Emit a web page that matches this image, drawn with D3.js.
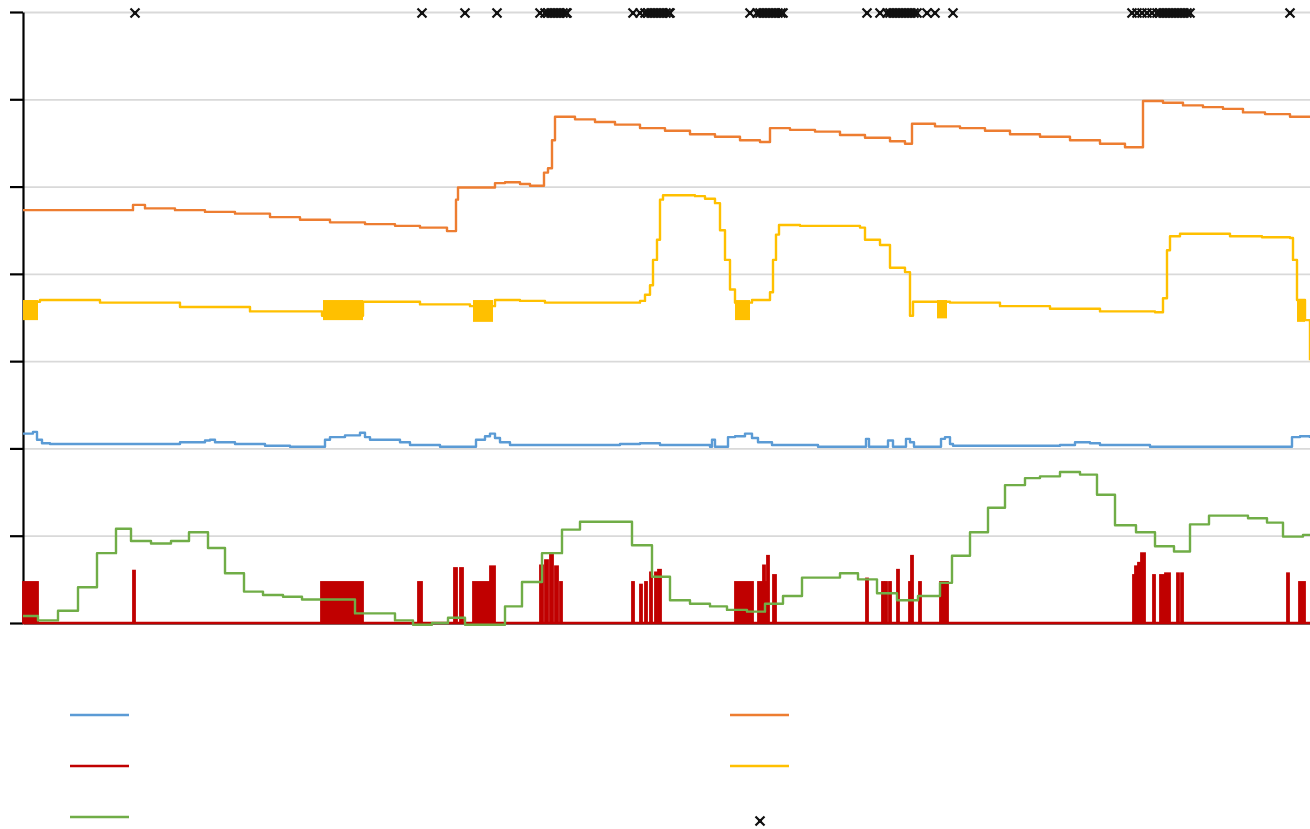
<!DOCTYPE html>
<html>
<head>
<meta charset="utf-8">
<script src="https://cdn.jsdelivr.net/npm/d3@7"></script>
<style>
  html, body { margin: 0; padding: 0; background: #fff; }
  svg { display: block; }
</style>
</head>
<body>
<script>
// x = minute index, y = series value (gridlines every 1 unit, 0..7)
const X_DOMAIN = [0, 1287];
const Y_TICKS = [0, 1, 2, 3, 4, 5, 6, 7];

const orangeSeries = [
  [0, 4.73], [110, 4.79], [122, 4.75], [152, 4.73], [182, 4.71], [212, 4.69],
  [247, 4.65], [277, 4.62], [307, 4.59], [342, 4.57], [372, 4.55], [397, 4.53],
  [424, 4.49], [433, 4.85], [435, 4.99], [472, 5.04], [482, 5.05], [497, 5.03],
  [507, 5.01], [521, 5.16], [525, 5.21], [529, 5.53], [532, 5.80], [552, 5.77],
  [572, 5.74], [592, 5.71], [617, 5.67], [642, 5.64], [667, 5.60], [692, 5.57],
  [717, 5.53], [737, 5.51], [747, 5.67], [767, 5.65], [792, 5.63], [817, 5.59],
  [842, 5.56], [867, 5.52], [882, 5.49], [889, 5.72], [912, 5.69], [937, 5.67],
  [962, 5.64], [987, 5.60], [1017, 5.57], [1047, 5.53], [1077, 5.49], [1102, 5.45],
  [1120, 5.98], [1140, 5.96], [1160, 5.93], [1180, 5.91], [1200, 5.89], [1220, 5.85],
  [1242, 5.83], [1267, 5.80], [1287, 5.79],
];

const yellowSeries = [
  [0, 3.68], [17, 3.70], [77, 3.67], [157, 3.62], [227, 3.57], [299, 3.52],
  [340, 3.68], [397, 3.65], [447, 3.63], [472, 3.70], [497, 3.69], [522, 3.67],
  [617, 3.69], [622, 3.76], [627, 3.87], [630, 4.16], [634, 4.39], [637, 4.85],
  [640, 4.90], [672, 4.89], [682, 4.86], [692, 4.81], [697, 4.50], [702, 4.16],
  [707, 3.82], [712, 3.67], [729, 3.70], [747, 3.79], [750, 4.16], [753, 4.45],
  [756, 4.56], [777, 4.55], [837, 4.53], [842, 4.39], [857, 4.33], [867, 4.07],
  [882, 4.02], [887, 3.52], [890, 3.68], [927, 3.67], [977, 3.63], [1027, 3.60],
  [1077, 3.57], [1132, 3.56], [1140, 3.72], [1144, 4.27], [1147, 4.43], [1157, 4.46],
  [1207, 4.43], [1239, 4.42], [1267, 4.41], [1270, 4.16], [1274, 3.70], [1282, 3.47],
  [1287, 3.01],
];

// dense jitter bursts of the yellow series: [from, to, high, low]
const yellowBursts = [
  [0, 15, 3.70, 3.47], [300, 340, 3.70, 3.47], [450, 470, 3.70, 3.45],
  [712, 727, 3.70, 3.47], [914, 924, 3.70, 3.49], [1274, 1282, 3.70, 3.45],
];

const blueSeries = [
  [0, 2.17], [10, 2.19], [14, 2.10], [19, 2.06], [27, 2.05], [157, 2.07],
  [182, 2.09], [187, 2.10], [192, 2.07], [212, 2.05], [242, 2.03], [267, 2.02],
  [302, 2.10], [307, 2.13], [322, 2.15], [337, 2.18], [342, 2.13], [347, 2.10],
  [377, 2.07], [387, 2.04], [417, 2.02], [453, 2.10], [462, 2.14], [467, 2.17],
  [472, 2.12], [477, 2.07], [487, 2.04], [597, 2.05], [617, 2.06], [637, 2.04],
  [687, 2.02], [689, 2.10], [692, 2.02], [705, 2.13], [712, 2.14], [722, 2.17],
  [729, 2.12], [735, 2.07], [749, 2.04], [795, 2.02], [843, 2.11], [846, 2.02],
  [865, 2.09], [870, 2.02], [883, 2.11], [887, 2.07], [891, 2.02], [918, 2.11],
  [922, 2.13], [927, 2.05], [930, 2.03], [1037, 2.04], [1052, 2.07], [1067, 2.06],
  [1077, 2.04], [1127, 2.02], [1269, 2.13], [1277, 2.14], [1287, 2.12],
];

const greenSeries = [
  [0, 0.08], [15, 0.03], [35, 0.14], [55, 0.41], [74, 0.80], [93, 1.08],
  [108, 0.94], [128, 0.91], [148, 0.94], [166, 1.04], [185, 0.86], [202, 0.57],
  [221, 0.36], [240, 0.32], [260, 0.30], [279, 0.27], [332, 0.11], [372, 0.03],
  [390, -0.02], [409, 0.00], [425, 0.06], [442, -0.02], [482, 0.19], [499, 0.47],
  [519, 0.80], [539, 1.07], [557, 1.16], [609, 0.89], [629, 0.53], [647, 0.26],
  [667, 0.22], [687, 0.19], [704, 0.15], [724, 0.13], [742, 0.22], [760, 0.31],
  [779, 0.52], [817, 0.57], [835, 0.50], [854, 0.34], [874, 0.26], [895, 0.31],
  [917, 0.46], [929, 0.77], [947, 1.04], [965, 1.32], [982, 1.58], [1002, 1.66],
  [1017, 1.68], [1037, 1.73], [1057, 1.70], [1074, 1.47], [1092, 1.12], [1113, 1.04],
  [1132, 0.88], [1151, 0.82], [1167, 1.13], [1186, 1.23], [1225, 1.20], [1244, 1.15],
  [1260, 0.99], [1280, 1.01], [1287, 1.01],
];

// red pulses off the zero line: [from, to, height]
const redPulses = [
  [0, 15, 0.47], [110, 112, 0.60], [298, 340, 0.47], [395, 399, 0.47],
  [431, 434, 0.63], [437, 440, 0.63], [450, 467, 0.47], [467, 472, 0.65],
  [517, 520, 0.66], [522, 525, 0.72], [527, 530, 0.78], [532, 535, 0.65],
  [537, 539, 0.47], [609, 611, 0.47], [617, 619, 0.44], [622, 624, 0.47],
  [627, 629, 0.58], [632, 634, 0.58], [635, 638, 0.61], [712, 730, 0.47],
  [735, 745, 0.47], [740, 742, 0.66], [744, 746, 0.77], [750, 753, 0.55],
  [843, 845, 0.51], [859, 861, 0.47], [862, 864, 0.47], [866, 868, 0.47],
  [874, 876, 0.61], [886, 888, 0.47], [888, 890, 0.77], [896, 898, 0.47],
  [917, 925, 0.47], [1110, 1112, 0.55], [1112, 1115, 0.65], [1115, 1118, 0.69],
  [1118, 1122, 0.80], [1130, 1132, 0.55], [1137, 1142, 0.55], [1142, 1147, 0.57],
  [1154, 1156, 0.57], [1158, 1160, 0.57], [1264, 1266, 0.57], [1276, 1282, 0.47],
];
const redBase = [[0, 0], [1287, 0]];

// event markers along the top line
const MARKER_VALUE = 7;
const markerTimes = [
  112, 399, 442, 474,
  517, 522, 525, 528, 531, 534, 537, 540, 543, 544,
  610, 617, 622, 625, 628, 631, 634, 637, 640, 643, 646, 647,
  727, 734, 737, 740, 743, 746, 749, 752, 755, 758, 760,
  844, 857, 864, 867, 870, 873, 876, 879, 882, 885, 888, 891, 894, 904, 912, 930,
  1109, 1114, 1119, 1124, 1129, 1134, 1137, 1140, 1143, 1146, 1149, 1152, 1155,
  1158, 1161, 1164, 1167,
  1267,
];

const COLORS = {
  blue: "#5b9bd5",
  orange: "#ed7d31",
  yellow: "#ffc000",
  green: "#70ad47",
  red: "#c00000",
  grid: "#d9d9d9",
  axis: "#000000",
};

const WIDTH = 1310;
const HEIGHT = 829;
const margin = { top: 12, right: 0, bottom: 206, left: 23 };
const LINE_W = 2.4;

const x = d3.scaleLinear().domain(X_DOMAIN).range([margin.left, WIDTH - margin.right]);
const y = d3.scaleLinear().domain([0, 7]).range([HEIGHT - margin.bottom, margin.top]);

const svg = d3.select("body").append("svg")
  .attr("width", WIDTH)
  .attr("height", HEIGHT);

// Gridlines
svg.append("g")
  .attr("transform", `translate(${margin.left},0)`)
  .call(d3.axisLeft(y).tickValues(Y_TICKS).tickSize(-(WIDTH - margin.left - margin.right)).tickFormat(""))
  .call((g) => g.select(".domain").remove())
  .call((g) => g.selectAll("line").attr("stroke", COLORS.grid).attr("stroke-width", 1.8));

// Y axis
svg.append("g")
  .attr("transform", `translate(${margin.left},0)`)
  .call(d3.axisLeft(y).tickValues(Y_TICKS).tickSize(13).tickSizeOuter(0).tickFormat(""))
  .call((g) => g.selectAll("path,line").attr("stroke", COLORS.axis).attr("stroke-width", 2.2));

// X axis
svg.append("g")
  .attr("transform", `translate(0,${y(0)})`)
  .call(d3.axisBottom(x).tickValues([]).tickSizeOuter(0))
  .call((g) => g.selectAll("path").attr("stroke", COLORS.axis).attr("stroke-width", 2.2));

const stepLine = d3.line()
  .x((d) => x(d[0]))
  .y((d) => y(d[1]))
  .curve(d3.curveStepAfter);

function drawLine(data, color) {
  svg.append("path")
    .datum(data)
    .attr("fill", "none")
    .attr("stroke", color)
    .attr("stroke-width", LINE_W)
    .attr("stroke-linejoin", "round")
    .attr("d", stepLine);
}

// Red pulses (filled blocks) + zero line
svg.append("g")
  .selectAll("rect")
  .data(redPulses)
  .join("rect")
  .attr("x", (d) => x(d[0]))
  .attr("y", (d) => y(d[2]))
  .attr("width", (d) => Math.max(1, x(d[1]) - x(d[0])))
  .attr("height", (d) => y(0) - y(d[2]))
  .attr("fill", COLORS.red)
  .attr("stroke", COLORS.red)
  .attr("stroke-width", 1.8);
drawLine(redBase, COLORS.red);

drawLine(greenSeries, COLORS.green);
drawLine(blueSeries, COLORS.blue);

// Yellow bursts
svg.append("g")
  .selectAll("rect")
  .data(yellowBursts)
  .join("rect")
  .attr("x", (d) => x(d[0]))
  .attr("y", (d) => y(d[2]))
  .attr("width", (d) => x(d[1]) - x(d[0]))
  .attr("height", (d) => y(d[3]) - y(d[2]))
  .attr("fill", COLORS.yellow);
drawLine(yellowSeries, COLORS.yellow);
drawLine(orangeSeries, COLORS.orange);

// Markers
const markerPath = "M-4.5,-4.5L4.5,4.5M-4.5,4.5L4.5,-4.5";
function drawMarker(g) {
  g.append("path").attr("d", markerPath).attr("stroke", "#111").attr("stroke-width", 2.2).attr("fill", "none");
  g.append("rect").attr("x", -2).attr("y", -2).attr("width", 4).attr("height", 4).attr("fill", "#111");
}
svg.append("g")
  .selectAll("g")
  .data(markerTimes)
  .join("g")
  .attr("transform", (d) => `translate(${x(d)},${y(MARKER_VALUE) + 1})`)
  .each(function () { drawMarker(d3.select(this)); });

// Legend (no labels in the source)
const legendItems = [
  { color: COLORS.blue, col: 0, row: 0 },
  { color: COLORS.red, col: 0, row: 1 },
  { color: COLORS.green, col: 0, row: 2 },
  { color: COLORS.orange, col: 1, row: 0 },
  { color: COLORS.yellow, col: 1, row: 1 },
  { marker: true, col: 1, row: 2 },
];
const legend = svg.append("g");
legendItems.forEach((it) => {
  const lx = it.col === 0 ? 70 : 730;
  const ly = 715 + it.row * 51;
  if (it.marker) {
    const g = legend.append("g").attr("transform", `translate(${lx + 30},${ly + 4})`);
    drawMarker(g);
  } else {
    legend.append("line")
      .attr("x1", lx).attr("x2", lx + 59)
      .attr("y1", ly).attr("y2", ly)
      .attr("stroke", it.color)
      .attr("stroke-width", LINE_W);
  }
});
</script>
</body>
</html>
